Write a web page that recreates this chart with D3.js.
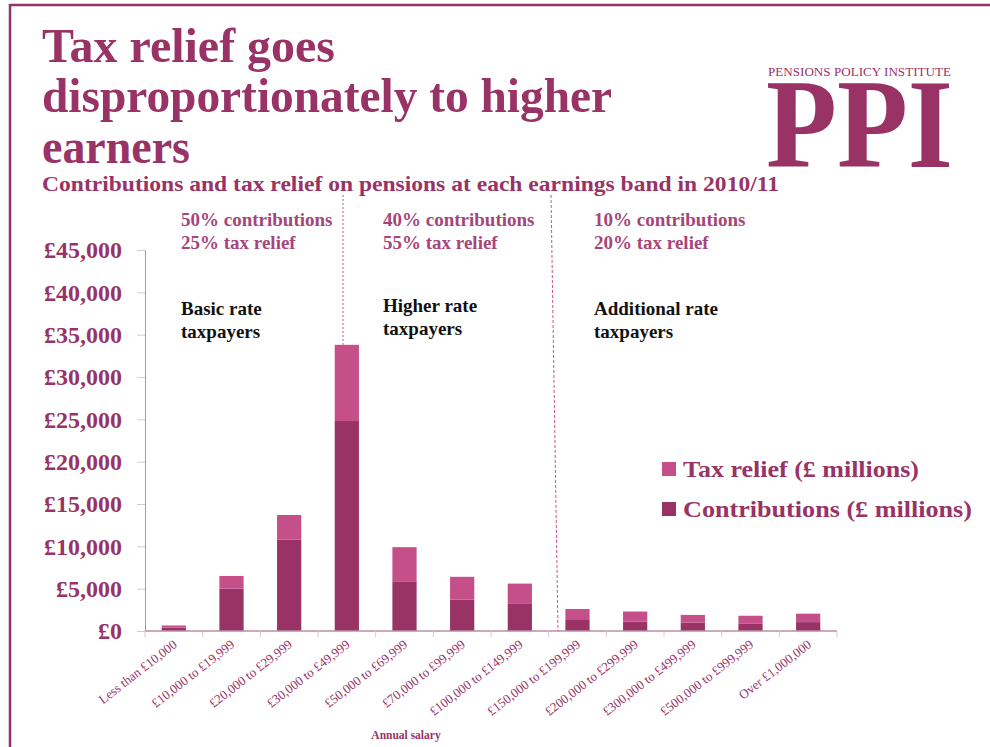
<!DOCTYPE html>
<html><head><meta charset="utf-8">
<script src="https://cdn.jsdelivr.net/npm/d3@7"></script>
<style>body{margin:0;background:#fff;} svg{display:block;}</style>
</head><body>
<svg id="c" width="990" height="747"></svg>
<script>
const categories = ["Less than £10,000","£10,000 to £19,999","£20,000 to £29,999","£30,000 to £49,999","£50,000 to £69,999","£70,000 to £99,999","£100,000 to £149,999","£150,000 to £199,999","£200,000 to £299,999","£300,000 to £499,999","£500,000 to £999,999","Over £1,000,000"];
const contributions = [400, 5000, 10800, 24800, 5800, 3700, 3200, 1300, 1100, 1000, 850, 1050];
const taxRelief = [250, 1500, 2900, 9000, 4100, 2700, 2400, 1300, 1200, 900, 950, 1000];
const yTicks = [0,5000,10000,15000,20000,25000,30000,35000,40000,45000];
const seriesNames = ["Tax relief (£ millions)","Contributions (£ millions)"];
const titleLines = ["Tax relief goes","disproportionately to higher","earners"];
const subtitle = "Contributions and tax relief on pensions at each earnings band in 2010/11";
const bandNotes = [["50% contributions","25% tax relief"],["40% contributions","55% tax relief"],["10% contributions","20% tax relief"]];
const bandNames = [["Basic rate","taxpayers"],["Higher rate","taxpayers"],["Additional rate","taxpayers"]];

const DARK = "#993366", LIGHT = "#c55089", AX = "#b98ea4";
const FONT = "'Liberation Serif', 'DejaVu Serif', serif";
const svg = d3.select("#c");

// frame
svg.append("line").attr("x1",10).attr("x2",990).attr("y1",5).attr("y2",5).attr("stroke",DARK).attr("stroke-width",2.5);
svg.append("line").attr("x1",10).attr("x2",10).attr("y1",4).attr("y2",747).attr("stroke",DARK).attr("stroke-width",2.5);

// title
const tl = [[62,293],[112,570],[163,148]];
titleLines.forEach((t,i)=>{
  svg.append("text").attr("x",42).attr("y",tl[i][0]).text(t)
    .attr("font-family",FONT).attr("font-size",49).attr("font-weight","bold").attr("fill",DARK)
    .attr("textLength",tl[i][1]).attr("lengthAdjust","spacingAndGlyphs");
});
svg.append("text").attr("x",42).attr("y",191).text(subtitle)
  .attr("font-family",FONT).attr("font-size",21).attr("font-weight","bold").attr("fill",DARK)
  .attr("textLength",737).attr("lengthAdjust","spacingAndGlyphs");

// logo
svg.append("text").attr("x",768).attr("y",76).text("PENSIONS POLICY INSTITUTE")
  .attr("font-family",FONT).attr("font-size",13).attr("fill",DARK)
  .attr("textLength",183).attr("lengthAdjust","spacingAndGlyphs");
svg.append("text").attr("x",766).attr("y",167).text("PPI")
  .attr("font-family",FONT).attr("font-size",128).attr("font-weight","bold").attr("fill",DARK)
  .attr("textLength",187).attr("lengthAdjust","spacingAndGlyphs");

// scales
const x = d3.scaleBand().domain(categories).range([145,837]).padding(0);
const y = d3.scaleLinear().domain([0,45000]).range([631,250]);
const bw = x.bandwidth()*0.42;

// y axis
const ya = svg.append("g").attr("transform","translate(145,0)")
  .call(d3.axisLeft(y).tickValues(yTicks).tickSize(8).tickFormat(d=>"£"+d3.format(",")(d)));
ya.select(".domain").attr("stroke",AX);
ya.selectAll(".tick line").attr("stroke","#dcc6d2");
ya.selectAll(".tick text").attr("font-family",FONT).attr("font-size",24).attr("font-weight","bold")
  .attr("fill",DARK).attr("x",-23);

// bars
const g = svg.append("g");
categories.forEach((c,i)=>{
  const cx = x(c)+x.bandwidth()/2;
  g.append("rect").attr("x",cx-bw/2).attr("width",bw)
    .attr("y",y(contributions[i])).attr("height",y(0)-y(contributions[i])).attr("fill",DARK);
  g.append("rect").attr("x",cx-bw/2).attr("width",bw)
    .attr("y",y(contributions[i]+taxRelief[i])).attr("height",y(contributions[i])-y(contributions[i]+taxRelief[i])).attr("fill",LIGHT);
});

// x axis
const xa = svg.append("g").attr("transform","translate(0,631)");
xa.append("line").attr("x1",145).attr("x2",837).attr("stroke",AX).attr("stroke-width",1.5);
const bounds = categories.map(c=>x(c)).concat([x.range()[1]]);
bounds.forEach(b=>xa.append("line").attr("x1",b).attr("x2",b).attr("y1",0).attr("y2",6).attr("stroke","#dcc6d2"));
categories.forEach(c=>{
  const cx = x(c)+x.bandwidth()/2;
  xa.append("text").attr("transform",`translate(${cx+4},15) rotate(-38)`).attr("text-anchor","end")
    .text(c).attr("font-family",FONT).attr("font-size",13).attr("fill",DARK);
});
svg.append("text").attr("x",406).attr("y",739).attr("text-anchor","middle").text("Annual salary")
  .attr("font-family",FONT).attr("font-size",11.5).attr("font-weight","bold").attr("fill",DARK);

// dashed separators
svg.append("line").attr("x1",343).attr("x2",343).attr("y1",195).attr("y2",y(contributions[3]+taxRelief[3]))
  .attr("stroke","#d04f8a").attr("stroke-dasharray","2,2").attr("stroke-width",1);
svg.append("line").attr("x1",551).attr("x2",558).attr("y1",195).attr("y2",631)
  .attr("stroke","#d04f8a").attr("stroke-dasharray","3,2").attr("stroke-width",1);

// band notes
const nx = [181,383,594];
bandNotes.forEach((n,i)=>{
  n.forEach((t,j)=>svg.append("text").attr("x",nx[i]).attr("y",226+j*23).text(t)
    .attr("font-family",FONT).attr("font-size",19).attr("font-weight","bold").attr("fill","#a6457a"));
});
const by = [315,312,315];
bandNames.forEach((n,i)=>{
  n.forEach((t,j)=>svg.append("text").attr("x",nx[i]).attr("y",by[i]+j*23).text(t)
    .attr("font-family",FONT).attr("font-size",19).attr("font-weight","bold").attr("fill","#111"));
});

// legend
const lc = [LIGHT, DARK];
const lw = [236, 289];
seriesNames.forEach((s,i)=>{
  svg.append("rect").attr("x",662).attr("y",462+i*40).attr("width",14).attr("height",14).attr("fill",lc[i]);
  svg.append("text").attr("x",683).attr("y",477+i*40).text(s)
    .attr("font-family",FONT).attr("font-size",24).attr("font-weight","bold").attr("fill",DARK)
    .attr("textLength",lw[i]).attr("lengthAdjust","spacingAndGlyphs");
});
</script>
</body></html>
